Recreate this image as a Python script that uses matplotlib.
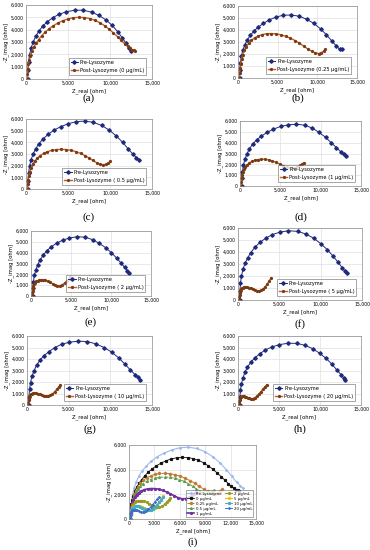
import matplotlib
matplotlib.use("Agg")
import matplotlib.pyplot as plt
from matplotlib.ticker import FuncFormatter, MultipleLocator

# ---------------- data (ohm) ----------------
pre_a_x = [200, 230, 300, 420, 600, 850, 1150, 1550, 2000, 2550, 3200, 3950, 4800, 5800, 6800, 7800, 8700, 9500, 10250, 10900, 11450, 11900, 12250, 12500]
pre_a_y = [0, 700, 1350, 1950, 2500, 3000, 3450, 3900, 4300, 4650, 4980, 5250, 5450, 5580, 5580, 5420, 5150, 4800, 4350, 3850, 3350, 2900, 2550, 2300]
pre_b_x = [200, 230, 300, 420, 600, 850, 1150, 1550, 2000, 2550, 3200, 3950, 4800, 5700, 6700, 7700, 8650, 9550, 10400, 11150, 11800, 12350, 12800, 13100]
pre_b_y = [0, 650, 1250, 1800, 2300, 2750, 3150, 3550, 3900, 4250, 4550, 4850, 5080, 5230, 5250, 5150, 4900, 4550, 4100, 3600, 3100, 2700, 2400, 2380]
pre_c_x = [200, 230, 300, 420, 600, 850, 1150, 1550, 2050, 2650, 3350, 4150, 5050, 6000, 7000, 8000, 9000, 9900, 10750, 11500, 12150, 12700, 13150, 13500]
pre_c_y = [0, 700, 1350, 1950, 2500, 3000, 3450, 3900, 4300, 4700, 5050, 5350, 5600, 5780, 5820, 5720, 5450, 5050, 4550, 4000, 3450, 3000, 2700, 2500]
pre_d_x = [200, 230, 300, 420, 600, 850, 1150, 1550, 2050, 2650, 3350, 4150, 5050, 6000, 7000, 8000, 8950, 9800, 10600, 11300, 11950, 12500, 12850, 13100]
pre_d_y = [0, 700, 1300, 1900, 2450, 2950, 3400, 3850, 4250, 4600, 4950, 5250, 5500, 5650, 5700, 5620, 5350, 4950, 4500, 4000, 3550, 3150, 2950, 2800]
pre_e_x = [200, 230, 300, 420, 600, 850, 1150, 1550, 2000, 2550, 3200, 3950, 4800, 5800, 6800, 7700, 8550, 9350, 10050, 10700, 11250, 11700, 12000, 12200]
pre_e_y = [0, 700, 1300, 1900, 2400, 2900, 3350, 3800, 4200, 4550, 4880, 5150, 5350, 5480, 5420, 5200, 4850, 4450, 4000, 3500, 3050, 2650, 2350, 2150]
pre_f_x = [200, 230, 300, 420, 600, 850, 1150, 1550, 2050, 2650, 3350, 4150, 5050, 6100, 7200, 8200, 9150, 10000, 10800, 11500, 12100, 12600, 12950, 13200]
pre_f_y = [0, 750, 1400, 2000, 2550, 3050, 3500, 3950, 4400, 4800, 5150, 5450, 5650, 5770, 5720, 5500, 5150, 4700, 4200, 3650, 3150, 2700, 2400, 2270]
pre_g_x = [200, 230, 300, 420, 600, 850, 1150, 1550, 2050, 2650, 3350, 4150, 5050, 6100, 7200, 8250, 9250, 10150, 11000, 11750, 12400, 12950, 13350, 13600]
pre_g_y = [0, 700, 1350, 1950, 2500, 3000, 3450, 3900, 4300, 4650, 5000, 5280, 5450, 5550, 5520, 5320, 5000, 4600, 4100, 3550, 3050, 2650, 2400, 2200]
pre_h_x = [200, 230, 300, 420, 600, 850, 1150, 1550, 2050, 2650, 3350, 4150, 5050, 6100, 7200, 8200, 9100, 9950, 10750, 11450, 12050, 12550, 12900, 13100]
pre_h_y = [0, 700, 1300, 1850, 2350, 2850, 3300, 3700, 4100, 4450, 4800, 5050, 5250, 5370, 5360, 5180, 4900, 4500, 4050, 3550, 3050, 2650, 2350, 2200]

post_0_x = [150, 170, 210, 280, 380, 520, 700, 930, 1200, 1500, 1850, 2250, 2700, 3200, 3750, 4350, 5000, 5650, 6300, 6950, 7600, 8200, 8800, 9350, 9900, 10400, 10900, 11350, 11750, 12100, 12400, 12650, 12850, 13000]
post_0_y = [0, 400, 800, 1200, 1550, 1900, 2250, 2600, 2900, 3200, 3500, 3780, 4050, 4300, 4520, 4720, 4870, 4970, 5000, 4980, 4900, 4760, 4560, 4320, 4040, 3740, 3430, 3130, 2860, 2640, 2480, 2380, 2330, 2300]
post_025_x = [180, 200, 250, 330, 450, 600, 800, 1050, 1350, 1700, 2100, 2550, 3050, 3600, 4200, 4800, 5400, 6000, 6600, 7200, 7750, 8300, 8800, 9300, 9750, 10150, 10500, 10800, 11000]
post_025_y = [0, 400, 800, 1200, 1600, 1950, 2300, 2600, 2900, 3150, 3350, 3500, 3620, 3690, 3700, 3680, 3600, 3480, 3320, 3120, 2900, 2650, 2420, 2230, 2090, 2040, 2100, 2250, 2400]
post_05_x = [180, 200, 250, 330, 450, 600, 800, 1050, 1350, 1700, 2100, 2550, 3050, 3600, 4200, 4800, 5400, 5950, 6500, 7000, 7500, 7950, 8400, 8800, 9200, 9550, 9800, 10000]
post_05_y = [0, 400, 780, 1150, 1500, 1820, 2120, 2400, 2650, 2870, 3050, 3200, 3310, 3380, 3400, 3380, 3310, 3200, 3050, 2870, 2660, 2450, 2260, 2120, 2070, 2120, 2230, 2360]
post_1_x = [150, 170, 210, 280, 380, 510, 680, 900, 1150, 1450, 1800, 2200, 2650, 3100, 3550, 4000, 4450, 4900, 5350, 5800, 6250, 6700, 7100, 7450, 7700, 7900]
post_1_y = [0, 350, 700, 1000, 1280, 1530, 1760, 1960, 2130, 2270, 2380, 2440, 2470, 2460, 2410, 2320, 2190, 2040, 1880, 1730, 1640, 1650, 1760, 1900, 2030, 2150]
post_2_x = [150, 160, 190, 240, 310, 400, 520, 670, 850, 1050, 1300, 1550, 1800, 2100, 2400, 2700, 3000, 3300, 3600, 3900, 4200, 4450, 4700, 4900]
post_2_y = [0, 250, 500, 730, 930, 1100, 1240, 1350, 1420, 1470, 1490, 1480, 1440, 1360, 1250, 1130, 1030, 960, 950, 1030, 1200, 1390, 1570, 1720]
post_5_x = [150, 160, 185, 220, 270, 340, 430, 550, 700, 880, 1080, 1300, 1550, 1800, 2050, 2300, 2550, 2800, 3050, 3300, 3550, 3800, 4000]
post_5_y = [0, 220, 430, 610, 760, 880, 970, 1040, 1080, 1090, 1080, 1040, 970, 880, 800, 750, 740, 800, 930, 1120, 1350, 1620, 1850]
post_10_x = [150, 160, 185, 220, 270, 340, 430, 550, 700, 880, 1080, 1300, 1550, 1800, 2050, 2300, 2550, 2800, 3050, 3300, 3550, 3800, 4000]
post_10_y = [0, 200, 400, 570, 710, 830, 920, 990, 1030, 1040, 1030, 990, 920, 840, 780, 750, 760, 830, 960, 1140, 1350, 1570, 1760]
post_20_x = [150, 160, 180, 210, 250, 300, 370, 460, 570, 700, 850, 1000, 1200, 1400, 1600, 1800, 2050, 2300, 2550, 2800, 3050, 3300, 3500]
post_20_y = [0, 180, 340, 470, 570, 650, 700, 740, 755, 750, 730, 690, 630, 580, 550, 560, 640, 780, 960, 1170, 1390, 1600, 1760]

post_labels = ["Post-Lysozyme (0 \u03bcg/mL)", "Post-Lysozyme (0.25 \u03bcg/mL)",
               "Post-Lysozyme ( 0.5 \u03bcg/mL)", "Post-Lysozyme (1 \u03bcg/mL)",
               "Post-Lysozyme ( 2 \u03bcg/mL)", "Post-Lysozyme ( 5 \u03bcg/mL)",
               "Post-Lysozyme ( 10 \u03bcg/mL)", "Post-Lysozyme ( 20 \u03bcg/mL)"]
conc_labels = ["0 \u03bcg/mL", "0.25 \u03bcg/mL", "0.5 \u03bcg/mL", "1 \u03bcg/mL",
               "2 \u03bcg/mL", "5 \u03bcg/mL", "10 \u03bcg/mL", "20 \u03bcg/mL"]
panel_letters = ["(a)", "(b)", "(c)", "(d)", "(e)", "(f)", "(g)", "(h)", "(i)"]

pre_sets = [(pre_a_x, pre_a_y), (pre_b_x, pre_b_y), (pre_c_x, pre_c_y), (pre_d_x, pre_d_y),
            (pre_e_x, pre_e_y), (pre_f_x, pre_f_y), (pre_g_x, pre_g_y), (pre_h_x, pre_h_y)]
post_sets = [(post_0_x, post_0_y), (post_025_x, post_025_y), (post_05_x, post_05_y),
             (post_1_x, post_1_y), (post_2_x, post_2_y), (post_5_x, post_5_y),
             (post_10_x, post_10_y), (post_20_x, post_20_y)]

# ---------------- layout (pixels: left, right, top, bottom) ----------------
W, H = 370, 550
boxes = [(26, 152, 5, 79), (238, 357, 6, 78),
         (26, 152, 119, 189), (240, 361, 121, 186),
         (31, 151, 231, 296), (238, 362, 228, 300),
         (27, 152, 336, 405), (238, 361, 336, 405),
         (129, 256, 445, 519)]
label_y = [98, 98, 217, 217, 322, 324, 429, 429, 542]

fig = plt.figure(figsize=(W / 100, H / 100), dpi=100)
fig.patch.set_facecolor("white")

fmt = FuncFormatter(lambda v, p: f"{int(v):,}")

def style(ax, xstep):
    ax.set_xlim(0, 15000)
    ax.set_ylim(0, 6000)
    ax.xaxis.set_major_locator(MultipleLocator(xstep))
    ax.yaxis.set_major_locator(MultipleLocator(1000 if xstep == 5000 else 2000))
    ax.xaxis.set_major_formatter(fmt)
    ax.yaxis.set_major_formatter(fmt)
    ax.tick_params(labelsize=3.3, length=0, pad=1.5)
    ax.grid(True, color="#d9d9d9", linewidth=0.4)
    ax.set_axisbelow(True)
    for s in ax.spines.values():
        s.set_color("#8c8c8c")
        s.set_linewidth(0.5)
    ax.set_xlabel("Z_real [ohm]", fontsize=3.8, labelpad=1.5)
    ax.set_ylabel("-Z_imag [ohm]", fontsize=3.8, labelpad=1.5)

axes = []
for i, (l, r, t, b) in enumerate(boxes):
    ax = fig.add_axes([l / W, 1 - b / H, (r - l) / W, (b - t) / H])
    axes.append(ax)
    fig.text((l + r) / 2 / W, 1 - label_y[i] / H, panel_letters[i], ha="center", va="center",
             fontsize=8, family="Liberation Serif")

pre_color = "#1f2a7a"
post_color = "#c0602a"
post_mark = "#7a3a12"
for i in range(8):
    ax = axes[i]
    style(ax, 5000)
    px, py = pre_sets[i]
    qx, qy = post_sets[i]
    ax.plot(px, py, color=pre_color, lw=0.7, marker="D", ms=1.8, mfc=pre_color, mec=pre_color,
            label="Pre-Lysozyme")
    ax.plot(qx, qy, color=post_color, lw=1.0, marker="o", ms=1.3, mfc=post_mark, mec=post_mark,
            label=post_labels[i])
    leg = ax.legend(loc="lower right", bbox_to_anchor=(0.975, 0.025), fontsize=3.7,
                    frameon=True, fancybox=False, edgecolor="#404040", handlelength=1.4,
                    borderpad=0.4, labelspacing=0.5, handletextpad=0.4)
    leg.get_frame().set_linewidth(0.4)

# ---------------- panel (i) ----------------
ax = axes[8]
style(ax, 3000)
i_colors = ["#9db8ea", "#111111", "#c07a30", "#5a9a4a", "#7030a0", "#9a9a20", "#f0c000", "#4bacc6", "#3f6fbf"]
i_markers = ["x", "s", "D", "^", "o", "o", "o", "s", "x"]
i_styles = ["-", "-", "--", "--", "-", "-", "-", "-", "-"]
i_lw = [0.8, 0.6, 0.7, 0.7, 1.2, 0.8, 0.8, 0.7, 0.7]
i_series = [(pre_c_x, pre_c_y)] + post_sets
i_labels = ["Pre-Lysozyme"] + conc_labels
for k, (sx, sy) in enumerate(i_series):
    ax.plot(sx, sy, color=i_colors[k], ls=i_styles[k], lw=i_lw[k], marker=i_markers[k], ms=1.3,
            mfc=i_colors[k], mec=i_colors[k], label=i_labels[k])
leg = ax.legend(loc="lower right", bbox_to_anchor=(0.995, 0.005), fontsize=2.8, ncol=2,
                frameon=True, fancybox=False, edgecolor="#404040", handlelength=1.8,
                borderpad=0.3, labelspacing=0.25, handletextpad=0.4, columnspacing=0.8)
leg.get_frame().set_linewidth(0.4)

fig.savefig("out.png", dpi=100, facecolor="white")
